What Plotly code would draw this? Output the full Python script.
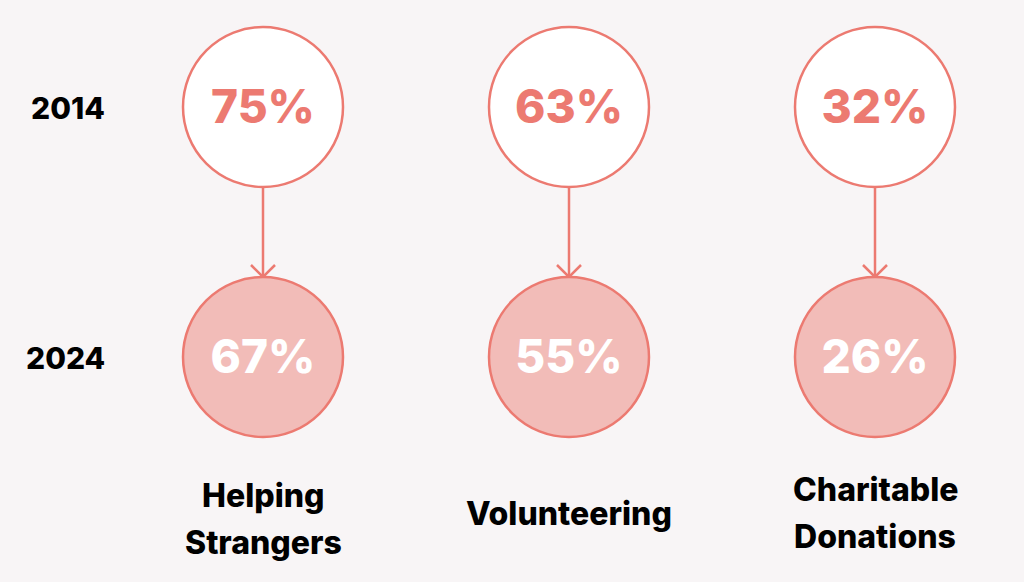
import plotly.graph_objects as go

# values
categories = ["Helping<br>Strangers", "Volunteering", "Charitable<br>Donations"]
years = ["2014", "2024"]
pct_2014 = [75, 63, 32]
pct_2024 = [67, 55, 26]

# layout, in pixel units (axes map 1:1 to the 1024x582 page)
W, H = 1024, 582
col_x = [263, 569, 875]
row_y = [107, 357]
r = 80
text_dy = 4
label_y = [519, 513, 513]
line_gap = 47

salmon = "#ec7a71"
pink = "#f2bcb8"
bg = "#f8f5f6"
font = "Inter"

fig = go.Figure()

# arrows (shaft + open chevron)
ax, ay = [], []
for x in col_x:
    y0, y1 = row_y[0] + r, row_y[1] - r
    ax += [x, x, None, x - 12, x, x + 12, None]
    ay += [y0, y1, None, y1 - 12, y1, y1 - 12, None]
fig.add_trace(go.Scatter(x=ax, y=ay, mode="lines",
                         line=dict(color=salmon, width=2.5),
                         hoverinfo="skip", showlegend=False))

# circles: 2014 white, 2024 pink
for y, fill in zip(row_y, ["white", pink]):
    fig.add_trace(go.Scatter(
        x=col_x, y=[y] * 3, mode="markers",
        marker=dict(size=2 * r, color=fill, line=dict(color=salmon, width=2.5)),
        hoverinfo="skip", showlegend=False))

# percentages inside the circles
for y, vals, col in zip(row_y, [pct_2014, pct_2024], [salmon, "white"]):
    fig.add_trace(go.Scatter(
        x=col_x, y=[y + text_dy] * 3, mode="text",
        text=[f"{v}%" for v in vals], textposition="middle center",
        textfont=dict(family=font, size=46, color=col, weight=800),
        hoverinfo="skip", showlegend=False))

# year labels
for yr, y in zip(years, row_y):
    fig.add_annotation(x=107, y=y + 1, text=yr, showarrow=False, xanchor="right",
                       font=dict(family=font, size=30, color="black", weight=800))

# category labels, one annotation per line for wider line spacing
for cat, x, y in zip(categories, col_x, label_y):
    lines = cat.split("<br>")
    top = y - line_gap * (len(lines) - 1) / 2
    for i, ln in enumerate(lines):
        fig.add_annotation(x=x, y=top + i * line_gap, text=ln, showarrow=False,
                           font=dict(family=font, size=32, color="black", weight=800))

fig.update_layout(
    width=W, height=H, margin=dict(l=0, r=0, t=0, b=0),
    paper_bgcolor=bg, plot_bgcolor=bg,
    xaxis=dict(range=[0, W], visible=False, fixedrange=True),
    yaxis=dict(range=[H, 0], visible=False, fixedrange=True),
)

fig.write_html("out.html", config={"displayModeBar": False},
               post_script="document.body.style.margin='0';")
